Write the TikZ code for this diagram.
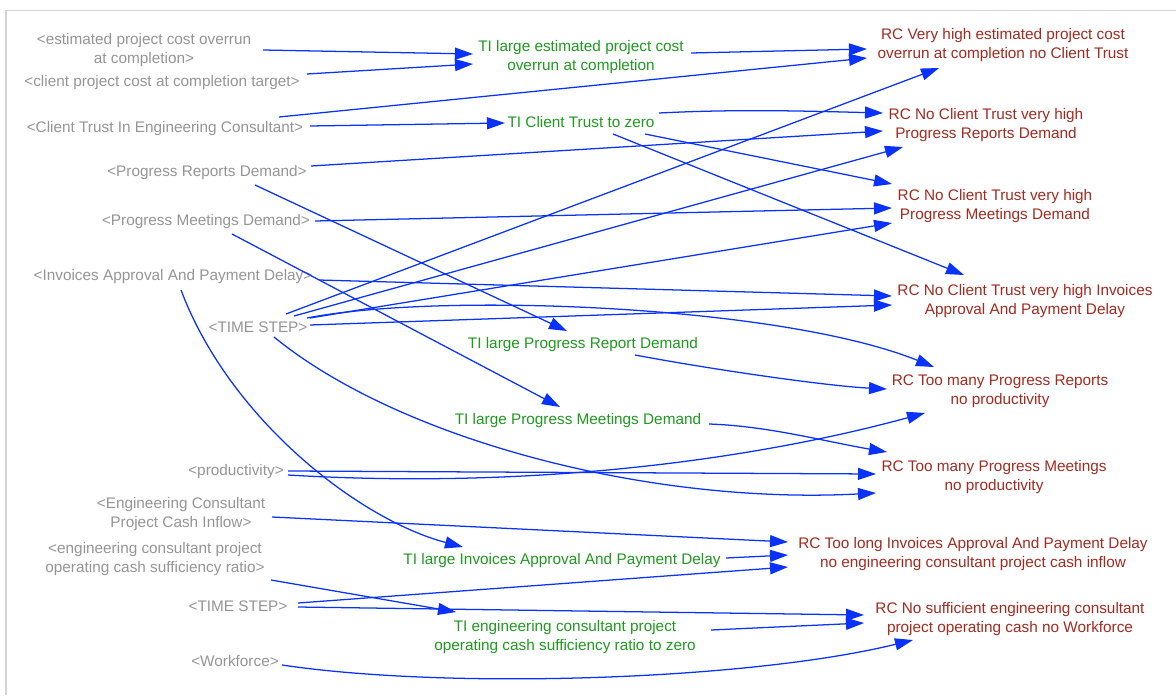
\documentclass[tikz,border=0pt]{standalone}
\usepackage{fontspec}
\setmainfont{Liberation Sans}
\usetikzlibrary{arrows.meta}
\definecolor{shadowGray}{HTML}{959595}
\definecolor{tiGreen}{HTML}{1F9A1F}
\definecolor{rcRed}{HTML}{A32A1F}
\definecolor{linkBlue}{HTML}{0A32FF}
\definecolor{frameGray}{HTML}{D4D4D4}
\begin{document}
\begin{tikzpicture}[x=0.75pt,y=-0.75pt,
  font=\fontsize{11.5}{14.25}\selectfont,
  lbl/.style={inner sep=0pt,align=center},
  shadowvar/.style={lbl,text=shadowGray},
  tivar/.style={lbl,text=tiGreen},
  rcvar/.style={lbl,text=rcRed},
  link/.style={draw=linkBlue,line width=0.95pt,
    -{Triangle[length=13.5pt,width=9pt]}}]
\useasboundingbox (0,0) rectangle (1176,695);
% panel frame
\draw[frameGray,line width=1.1pt] (6,695) -- (6,10.5) -- (1176,10.5);

% shadow variables
\node[shadowvar] (n1) at (144,50) {<estimated project cost overrun\\at completion>};
\node[shadowvar] (n2) at (162,83) {<client project cost at completion target>};
\node[shadowvar] (n3) at (165,129) {<Client Trust In Engineering Consultant>};
\node[shadowvar] (n4) at (207,173) {<Progress Reports Demand>};
\node[shadowvar] (n5) at (206,222) {<Progress Meetings Demand>};
\node[shadowvar] (n6) at (173,277) {<Invoices Approval And Payment Delay>};
\node[shadowvar] (ts) at (258,327) {<TIME STEP>};
\node[shadowvar] (prod) at (236,472) {<productivity>};
\node[shadowvar] (n9) at (181,514) {<Engineering Consultant\\Project Cash Inflow>};
\node[shadowvar] (n10) at (155,559) {<engineering consultant project\\operating cash sufficiency ratio>};
\node[shadowvar] (ts2) at (238,606) {<TIME STEP>};
\node[shadowvar] (n12) at (235,661) {<Workforce>};

% threshold indicators
\node[tivar] (A) at (581,57) {TI large estimated project cost\\overrun at completion};
\node[tivar] (B) at (581,122) {TI Client Trust to zero};
\node[tivar] (C) at (583,345) {TI large Progress Report Demand};
\node[tivar] (D) at (578,421) {TI large Progress Meetings Demand};
\node[tivar] (E) at (562,561) {TI large Invoices Approval And Payment Delay};
\node[tivar] (F) at (565,637) {TI engineering consultant project\\operating cash sufficiency ratio to zero};

% risk conditions
\node[rcvar] (R1) at (1003,45) {RC Very high estimated project cost\\overrun at completion no Client Trust};
\node[rcvar] (R2) at (986,125) {RC No Client Trust very high\\Progress Reports Demand};
\node[rcvar] (R3) at (995,206) {RC No Client Trust very high\\Progress Meetings Demand};
\node[rcvar] (R4) at (1025,301) {RC No Client Trust very high Invoices\\Approval And Payment Delay};
\node[rcvar] (R5) at (1000,391) {RC Too many Progress Reports\\no productivity};
\node[rcvar] (R6) at (994,477) {RC Too many Progress Meetings\\no productivity};
\node[rcvar] (R7) at (973,554) {RC Too long Invoices Approval And Payment Delay\\no engineering consultant project cash inflow};
\node[rcvar] (R8) at (1010,619) {RC No sufficient engineering consultant\\project operating cash no Workforce};

% links into the threshold indicators
\draw[link] ([shift={(119,0)}]n1.center) -- ([shift={(-108,-3)}]A.center);
\draw[link] ([shift={(145,-9)}]n2.center) -- ([shift={(-108,7)}]A.center);
\draw[link] ([shift={(145,-3)}]n3.center) -- ([shift={(-76,1)}]B.center);
\draw[link] ([shift={(48,12)}]n4.center) -- ([shift={(-16,-14)}]C.center);
\draw[link] ([shift={(26,12)}]n5.center) -- ([shift={(-18,-14)}]D.center);
\draw[link] ([shift={(8,13)}]n6.center) .. controls +(49,130) and +(-103,-27) .. ([shift={(-99,-14)}]E.center);
\draw[link] ([shift={(116,21)}]n10.center) -- ([shift={(-109,-25)}]F.center);

% links into RC Very high estimated project cost
\draw[link] ([shift={(114,-12)}]n3.center) -- ([shift={(-136,13)}]R1.center);
\draw[link] ([shift={(110,-4)}]A.center) -- ([shift={(-136,4)}]R1.center);
\draw[link] ([shift={(28,-13)}]ts.center) -- ([shift={(-64,23)}]R1.center);

% links into RC ... Progress Reports Demand
\draw[link] ([shift={(78,-9)}]B.center) .. controls +(80,-4) and +(-80,-2) .. ([shift={(-103,-12)}]R2.center);
\draw[link] ([shift={(104,-7)}]n4.center) -- ([shift={(-103,6)}]R2.center);
\draw[link] ([shift={(36,-11)}]ts.center) -- ([shift={(-83,22)}]R2.center);

% links into RC ... Progress Meetings Demand
\draw[link] ([shift={(64,12)}]B.center) -- ([shift={(-103,-22)}]R3.center);
\draw[link] ([shift={(109,-1)}]n5.center) -- ([shift={(-103,2)}]R3.center);
\draw[link] ([shift={(52,-9)}]ts.center) -- ([shift={(-103,17)}]R3.center);

% links into RC ... Invoices Approval And Payment Delay
\draw[link] ([shift={(32,12)}]B.center) -- ([shift={(-61,-26)}]R4.center);
\draw[link] ([shift={(146,3)}]n6.center) -- ([shift={(-133,-5)}]R4.center);
\draw[link] ([shift={(52,-2)}]ts.center) -- ([shift={(-133,4)}]R4.center);

% links into RC Too many Progress Reports
\draw[link] ([shift={(52,10)}]C.center) .. controls +(80,15) and +(-60,-3) .. ([shift={(-113,-2)}]R5.center);
\draw[link] ([shift={(49,-9)}]ts.center) .. controls +(133,-26) and +(-154,-62) .. ([shift={(-66,-24)}]R5.center);
\draw[link] ([shift={(52,3)}]prod.center) .. controls +(252,15) and +(-165,45) .. ([shift={(-75,22)}]R5.center);

% links into RC Too many Progress Meetings
\draw[link] ([shift={(131,3)}]D.center) .. controls +(60,2) and +(-60,-10) .. ([shift={(-107,-25)}]R6.center);
\draw[link] ([shift={(52,-1)}]prod.center) -- ([shift={(-118,-3)}]R6.center);
\draw[link] ([shift={(16,10)}]ts.center) .. controls +(126,103) and +(-226,12) .. ([shift={(-118,16)}]R6.center);

% links into RC Too long Invoices Approval
\draw[link] ([shift={(91,3)}]n9.center) -- ([shift={(-185,-12)}]R7.center);
\draw[link] ([shift={(164,-3)}]E.center) -- ([shift={(-185,1)}]R7.center);
\draw[link] ([shift={(60,-3)}]ts2.center) -- ([shift={(-185,13)}]R7.center);

% links into RC No sufficient engineering consultant project operating cash
\draw[link] ([shift={(60,1)}]ts2.center) -- ([shift={(-146,-4)}]R8.center);
\draw[link] ([shift={(146,-7)}]F.center) -- ([shift={(-146,4)}]R8.center);
\draw[link] ([shift={(47,4)}]n12.center) .. controls +(168,25) and +(-163,40) .. ([shift={(-97,21)}]R8.center);
\end{tikzpicture}
\end{document}
